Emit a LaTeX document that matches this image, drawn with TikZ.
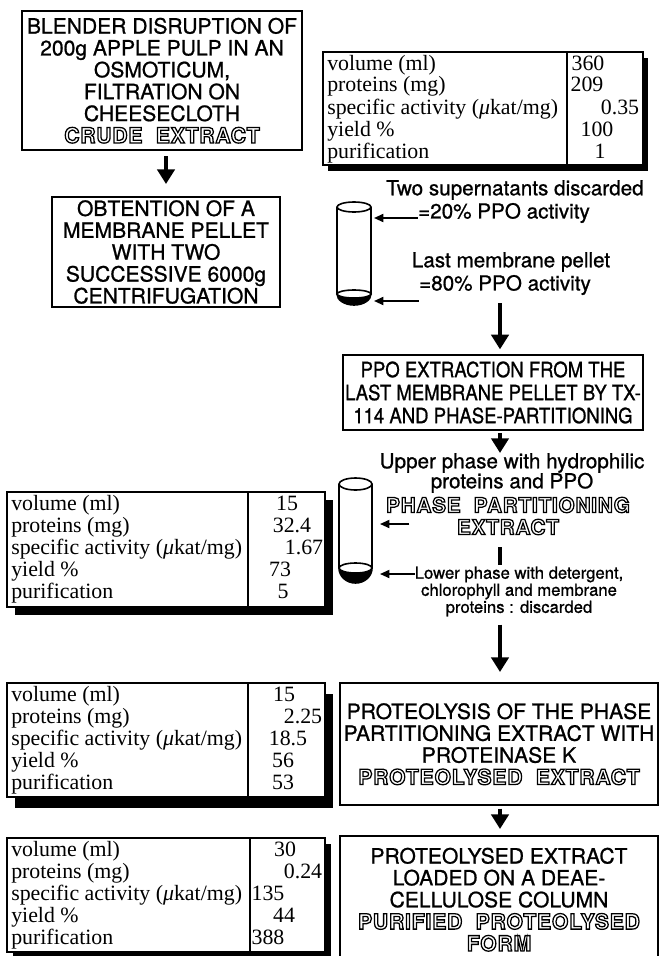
\documentclass[tikz,border=0pt]{standalone}
\usepackage{fontspec}
\setmainfont{Liberation Serif}
\newfontfamily\helv[FakeBold=0.9]{TeX Gyre Heros}
\newfontfamily\helvnarrow[FakeStretch=0.88,FakeBold=0.9]{TeX Gyre Heros}
\newfontfamily\helvhollow[FakeBold=6,LetterSpace=4]{TeX Gyre Heros Bold}
\usetikzlibrary{arrows.meta,shadows}

% hollow capitals for the names of the fractions:
% white fill, black stroke of the emboldened glyphs
\newcommand{\hollow}[1]{{\helvhollow\color{white}\special{pdf:literal direct 0 0 0 RG}#1}}

\tikzset{
  stepbox/.style={draw, line width=1.5pt, align=center, inner sep=0pt,
    font={\helv\fontsize{15.8}{16.4}\selectfont}},
  note/.style={align=center, inner sep=0pt, font={\helv\fontsize{15.5}{15}\selectfont}},
  small note/.style={align=center, inner sep=0pt, font={\helv\fontsize{12.5}{12.8}\selectfont}},
  rowlab/.style={anchor=base west, inner sep=0pt, font={\fontsize{16.4}{16.5}\selectfont}},
  rowval/.style={anchor=base, inner sep=0pt, font={\fontsize{16.4}{16.5}\selectfont}},
  tabframe/.style={draw, line width=1.1pt, fill=white},
  tabline/.style={line width=1.1pt},
  flowarrow/.style={line width=2.6pt, -{Triangle[width=13pt,length=11pt]}},
  flowbar/.style={line width=2.6pt},
  pointer/.style={line width=1.3pt, -{Triangle[width=6pt,length=7pt]}},
  tube/.style={line width=1.2pt},
}

\begin{document}
\begin{tikzpicture}[x=0.75pt, y=-0.75pt]
    \clip (0,0) rectangle (660,956);
    \fill[white] (0,0) rectangle (660,956);

    % Steps of the purification
    \node[stepbox, minimum width=210pt, minimum height=104.25pt] (blender) at (162,80.5)
        {BLENDER DISRUPTION OF\\200g APPLE PULP IN AN\\OSMOTICUM,\\FILTRATION ON\\CHEESECLOTH\\\hollow{CRUDE\ \ EXTRACT}};
    \node[stepbox, minimum width=171pt, minimum height=82.5pt] (pellet) at (166,252)
        {OBTENTION OF A\\MEMBRANE PELLET\\WITH TWO\\SUCCESSIVE 6000g\\CENTRIFUGATION};
    \node[stepbox, minimum width=225pt, minimum height=56.25pt,
        font={\helvnarrow\fontsize{15.8}{17.25}\selectfont}] (ppoext) at (493,392.5)
        {PPO EXTRACTION FROM THE\\LAST MEMBRANE PELLET BY TX-\\114 AND PHASE-PARTITIONING};
    \node[stepbox, minimum width=238.5pt, minimum height=91.5pt] (proteol) at (499,744)
        {PROTEOLYSIS OF THE PHASE\\PARTITIONING EXTRACT WITH\\PROTEINASE K\\\hollow{PROTEOLYSED\ \ EXTRACT}};
    \node[stepbox, minimum width=238.5pt, minimum height=95.25pt] (deae) at (499,899.5)
        {PROTEOLYSED EXTRACT\\LOADED ON A DEAE-\\CELLULOSE COLUMN\\\hollow{PURIFIED\ \ PROTEOLYSED}\\\hollow{FORM}};

    % Tube after centrifugation
    \draw[tube] (337,207) -- (337,294) arc[start angle=180, end angle=360, x radius=12.75pt, y radius=8.25pt] -- (371,207);
    \draw[tube] (354,207) ellipse[x radius=12.75pt, y radius=3.75pt];
    \fill (337,294) arc[start angle=180, end angle=360, x radius=12.75pt, y radius=8.25pt]
        arc[start angle=0, end angle=-180, x radius=12.75pt, y radius=3pt] -- cycle;
    \draw[tube] (354,294) ellipse[x radius=12.75pt, y radius=3pt];
    \coordinate (tubeA-top) at (374,218);
    \coordinate (tubeA-pel) at (374,301);

    \node[note] (supA) at (515,190) {Two supernatants discarded};
    \node[note] (supB) at (504,213) {=20\% PPO activity};
    \node[note] (lastA) at (511,262) {Last membrane pellet};
    \node[note] (lastB) at (505,285) {=80\% PPO activity};
    \draw[pointer] (tubeA-top -| supB.west) -- (tubeA-top);
    \draw[pointer] (tubeA-pel -| lastB.west) -- (tubeA-pel);

    % Tube after phase partitioning
    \draw[tube] (339,484) -- (339,568) arc[start angle=180, end angle=360, x radius=12.375pt, y radius=11.25pt] -- (372,484);
    \draw[tube] (355.5,484) ellipse[x radius=12.375pt, y radius=4.5pt];
    \fill (339,568) arc[start angle=180, end angle=360, x radius=12.375pt, y radius=11.25pt]
        arc[start angle=0, end angle=-180, x radius=12.375pt, y radius=3.75pt] -- cycle;
    \draw[tube] (355.5,568) ellipse[x radius=12.375pt, y radius=3.75pt];
    \coordinate (tubeB-top) at (380,524);
    \coordinate (tubeB-pel) at (380,574);

    \node[note] (upper) at (512,473) {Upper phase with hydrophilic\\proteins and PPO};
    \node[note, font={\helv\fontsize{15.5}{16.5}\selectfont}] (ppext) at (508,516)
        {\hollow{PHASE\ \ PARTITIONING}\\\hollow{EXTRACT}};
    \node[small note] (lower) at (519,591.5)
        {Lower phase with detergent,\\chlorophyll and membrane\\proteins : discarded};
    \draw[pointer] ([xshift=22pt]tubeB-top) -- (tubeB-top);
    \draw[pointer] (tubeB-pel -| lower.west) -- (tubeB-pel);

    % Main flow
    \coordinate (spine) at (500,303);
    \draw[flowarrow, shorten <=3.75pt, shorten >=9pt] (blender.south -| pellet.north) -- (pellet.north);
    \draw[flowarrow, shorten >=3.5pt] (spine) -- (spine |- ppoext.north);
    \draw[flowarrow, shorten <=1.5pt] (ppoext.south -| spine) -- (upper.north -| spine);
    \draw[flowbar, shorten <=9pt, shorten >=1pt] (ppext.south -| spine) -- (lower.north -| spine);
    \draw[flowarrow, shorten <=6pt, shorten >=7.5pt] (lower.south -| spine) -- (proteol.north -| spine);
    \draw[flowarrow, shorten <=2pt, shorten >=4.5pt] (proteol.south -| spine) -- (deae.north -| spine);

    % Tables of the fractions
    \draw[tabframe, drop shadow={shadow xshift=4pt, shadow yshift=-4.5pt, fill=black, opacity=1}] (323,52) rectangle (643,165);
    \draw[tabline] (567,52) -- (567,165);
    \draw[tabframe, drop shadow={shadow xshift=6pt, shadow yshift=-6pt, fill=black, opacity=1}] (7,492) rectangle (325,607);
    \draw[tabline] (248,492) -- (248,607);
    \draw[tabframe, drop shadow={shadow xshift=6pt, shadow yshift=-8pt, fill=black, opacity=1}] (7,683) rectangle (325,797);
    \draw[tabline] (248,683) -- (248,797);
    \draw[tabframe, drop shadow={shadow xshift=4.5pt, shadow yshift=-4.5pt, fill=black, opacity=1}] (7,838) rectangle (325,952);
    \draw[tabline] (250,838) -- (250,952);

    \foreach \tx/\ty/\tab in {327/52/crude, 11/492/phase, 11/683/prot, 11/838/pure}
        \foreach \lab [count=\r] in {volume (ml), proteins (mg), {specific activity (\textit{μ}kat/mg)}, yield \%, purification}
            \node[rowlab] (\tab-lab\r) at (\tx, \ty+18+22*\r-22) {\lab};

    \foreach \val/\vx [count=\r] in {360/588, 209/587, 0.35/620, 100/597, 1/600}
        \node[rowval] (crude-val\r) at (\vx, 70+22*\r-22) {\val};
    \foreach \val/\vx [count=\r] in {15/287, 32.4/292, 1.67/304, 73/280, 5/283}
        \node[rowval] (phase-val\r) at (\vx, 510+22*\r-22) {\val};
    \foreach \val/\vx [count=\r] in {15/284, 2.25/303, 18.5/288, 56/283, 53/283}
        \node[rowval] (prot-val\r) at (\vx, 701+22*\r-22) {\val};
    \foreach \val/\vx [count=\r] in {30/285, 0.24/303, 135/268, 44/284, 388/268}
        \node[rowval] (pure-val\r) at (\vx, 856+22*\r-22) {\val};
\end{tikzpicture}
\end{document}
